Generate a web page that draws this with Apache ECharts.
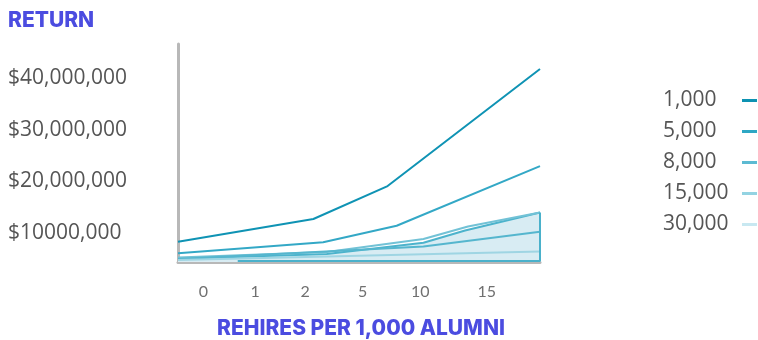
<!DOCTYPE html>
<html>
<head>
<meta charset="utf-8">
<script src="https://cdn.jsdelivr.net/npm/echarts@6/dist/echarts.min.js"></script>
<style>html,body{margin:0;padding:0;background:#fff;}#c{width:758px;height:340px;}</style>
</head>
<body>
<div id="c"></div>
<script>
// x positions are on an abstract 0-100 horizontal scale; y values in $ millions
const xLabels = ['0', '1', '2', '5', '10', '15'];
const xLabelPos = [7.0, 21.3, 35.1, 51.0, 66.9, 85.3];
const yTickValues = [10, 20, 30, 40];
const yTickLabels = ['$10000,000', '$20,000,000', '$30,000,000', '$40,000,000'];
const seriesNames = ['1,000', '5,000', '8,000', '15,000', '30,000'];

const x1000 = [0, 37.4, 57.9, 100];
const y1000 = [8.32, 12.72, 19.10, 41.75];
const x5000 = [0, 40.1, 60.4, 100];
const y5000 = [6.08, 8.21, 11.42, 22.97];
const x8000 = [0, 41.1, 67.8, 80.1, 100];
const y8000 = [5.26, 6.33, 8.85, 11.26, 13.97];
const x15000 = [0, 41.1, 67.8, 79.3, 100];
const y15000 = [5.01, 5.94, 8.13, 10.49, 13.97];
const x30000 = [0, 67.8, 100];
const y30000 = [4.97, 7.39, 10.26];
const xExtra = [0, 100];
const yExtra = [4.78, 6.43];
const xEdge = [16.5, 100, 100];
const yEdge = [4.59, 4.59, 13.97];

const pair = (xs, ys) => xs.map((x, i) => [x, ys[i]]);

const lineColors = ['#0f93b4', '#33a8c6', '#72c2d6', '#4cb3cc', '#55b6ce'];
const legendColors = ['#0d92b2', '#2ea7c4', '#5cbad2', '#93d3e2', '#c8e8f1'];

const chart = echarts.init(document.getElementById('c'));
const mk = (name, data, color, extra) => Object.assign({
  name, type: 'line', data, symbol: 'none', silent: true,
  lineStyle: { color, width: 2 }, itemStyle: { color }, z: 3
}, extra || {});

chart.setOption({
  animation: false,
  grid: { left: 178, right: 218, top: 44, bottom: 78 },
  xAxis: {
    type: 'value', min: 0, max: 100,
    axisLine: { show: true, lineStyle: { color: '#b8b8b8', width: 3 } },
    axisTick: { show: false },
    splitLine: { show: false },
    axisLabel: {
      customValues: xLabelPos,
      formatter: v => { const i = xLabelPos.indexOf(v); return i >= 0 ? xLabels[i] : ''; },
      margin: 22, fontFamily: 'Lato', fontSize: 16, color: '#707070'
    }
  },
  yAxis: {
    type: 'value', min: 4.4, max: 46.6,
    axisLine: { show: true, lineStyle: { color: '#b8b8b8', width: 3 } },
    axisTick: { show: false },
    splitLine: { show: false },
    axisLabel: {
      customValues: yTickValues,
      formatter: v => { const i = yTickValues.indexOf(v); return i >= 0 ? yTickLabels[i] : ''; },
      align: 'left', margin: 170, fontFamily: 'Open Sans', fontSize: 21, color: '#555'
    }
  },
  legend: {
    orient: 'vertical', left: 658, top: 85, align: 'right', icon: 'rect',
    itemWidth: 15, itemHeight: 3, itemGap: 10, selectedMode: false,
    formatter: n => '{a|' + n + '}',
    textStyle: {
      rich: { a: { fontFamily: 'Open Sans', fontSize: 21, color: '#555', width: 74, align: 'left', lineHeight: 21 } }
    },
    data: seriesNames.map((n, i) => ({ name: n, itemStyle: { color: legendColors[i] }, lineStyle: { color: legendColors[i] } }))
  },
  graphic: [
    { type: 'text', left: 8, top: 10, style: { text: 'RETURN', font: '800 21px Inter', fill: '#4b4ce0' } },
    { type: 'text', x: 361, y: 329, style: { text: 'REHIRES PER 1,000 ALUMNI', textAlign: 'center', textVerticalAlign: 'middle', font: '800 21px Inter', fill: '#4b4ce0' } }
  ],
  series: [
    mk('1,000', pair(x1000, y1000), lineColors[0], { z: 6 }),
    mk('5,000', pair(x5000, y5000), lineColors[1], { z: 6 }),
    mk('8,000', pair(x8000, y8000), lineColors[2], { z: 5 }),
    mk('15,000', pair(x15000, y15000), lineColors[3], { z: 4, areaStyle: { color: '#d8ecf3', opacity: 1, origin: 'start' } }),
    mk('30,000', pair(x30000, y30000), lineColors[4], { z: 5 }),
    mk('extra', pair(xExtra, yExtra), '#9fd5e3', { z: 5 }),
    mk('edge', pair(xEdge, yEdge), '#4ab1cb', { z: 5 })
  ]
});
</script>
</body>
</html>
